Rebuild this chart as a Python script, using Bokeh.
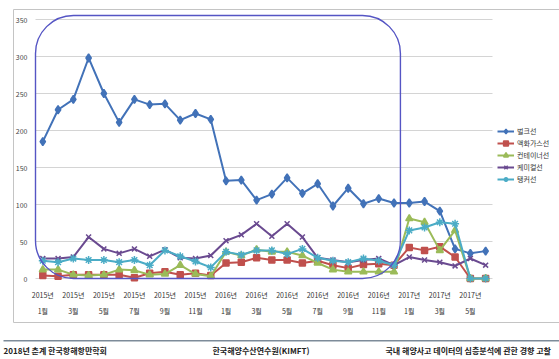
from bokeh.plotting import figure
from bokeh.models import Range1d, BoxAnnotation, Label, Legend, LegendItem
from bokeh.core.properties import value
from bokeh.embed import file_html
from bokeh.resources import INLINE

# Monthly accident counts by ship type, Jan 2015 – Jun 2017
months = list(range(30))
tick_positions = list(range(0, 30, 2))
tick_labels = ["2015년\n1월", "2015년\n3월", "2015년\n5월", "2015년\n7월", "2015년\n9월",
               "2015년\n11월", "2016년\n1월", "2016년\n3월", "2016년\n5월", "2016년\n7월",
               "2016년\n9월", "2016년\n11월", "2017년\n1월", "2017년\n3월", "2017년\n5월"]
y_ticks = [0, 50, 100, 150, 200, 250, 300, 350]

bulk = [185, 228, 242, 298, 250, 211, 242, 235, 236, 214, 223, 215,
        132, 133, 106, 114, 136, 115, 128, 98, 122, 101, 108, 102,
        102, 104, 91, 40, 34, 37]
lng = [4, 3, 5, 5, 5, 5, 1, 7, 9, 5, 7, 4,
       21, 22, 28, 25, 25, 21, 24, 18, 14, 19, 20, 18,
       42, 38, 43, 29, 0, 0]
container = [12, 12, 5, 4, 5, 12, 11, 5, 6, 18, 6, 3,
             36, 31, 39, 36, 36, 31, 21, 12, 9, 9, 9, 9,
             81, 76, 38, 65, 0, 0]
chemical = [27, 27, 29, 56, 40, 34, 40, 30, 39, 28, 27, 31,
            51, 59, 74, 57, 74, 56, 28, 25, 22, 25, 27, 18,
            29, 25, 22, 17, 27, 18]
tanker = [24, 22, 27, 25, 25, 22, 25, 18, 38, 30, 23, 15,
          36, 32, 38, 38, 33, 40, 28, 24, 22, 27, 24, 18,
          65, 69, 76, 74, 0, 0]

series_names = ["벌크선", "액화가스선", "컨테이너선", "케미컬선", "탱커선"]
series_values = [bulk, lng, container, chemical, tanker]
series_colors = ["#4272b8", "#c0504d", "#9bbb59", "#6a4a90", "#4bacc6"]
series_markers = ["diamond", "square", "triangle", "x", "asterisk"]
series_sizes = [8, 6, 7, 7, 8]

footer_texts = ["2018년 춘계 한국항해항만학회", "한국해양수산연수원(KIMFT)",
                "국내 해양사고 데이터의 심층분석에 관한 경향 고찰"]

FONT = "Noto Sans CJK KR"
W, H = 559, 359

# canvas pixel -> data helpers (month index on x, count on y)
X0_PX, DX_PX = 42.3, 15.27
Y0_PX, DY_PX = 278.0, 0.74


def dx(px):
    return (px - X0_PX) / DX_PX


def dy(py):
    return (Y0_PX - py) / DY_PX


p = figure(width=W, height=H, x_range=Range1d(dx(0), dx(W)),
           y_range=Range1d(dy(H), dy(0)), output_backend="svg",
           toolbar_location=None, x_axis_location=None, y_axis_location=None,
           min_border=0)
p.outline_line_color = None
p.background_fill_color = "white"
p.border_fill_color = "white"
p.grid.visible = False

plot_left, plot_right = dx(35), dx(492)

# horizontal gridlines
p.segment(x0=plot_left, x1=plot_right, y0=y_ticks, y1=y_ticks,
          line_color="#d4d4d4", line_width=1)

# y tick labels
p.text(x=[plot_left] * len(y_ticks), y=y_ticks, text=[str(v) for v in y_ticks],
       x_offset=-8, text_align="right", text_baseline="middle",
       text_font=value(FONT), text_font_size="7px", text_color="#444444")

# x tick labels (year line and month line)
years = [l.split("\n")[0] for l in tick_labels]
mons = [l.split("\n")[1] for l in tick_labels]
p.text(x=tick_positions, y=[0] * len(tick_positions), text=years, y_offset=16,
       text_align="center", text_baseline="middle", text_font=value(FONT),
       text_font_size="7px", text_color="#333333")
p.text(x=tick_positions, y=[0] * len(tick_positions), text=mons, y_offset=32,
       text_align="center", text_baseline="middle", text_font=value(FONT),
       text_font_size="7px", text_color="#333333")

items = []
for name, vals, col, mk, sz in zip(series_names, series_values, series_colors,
                                   series_markers, series_sizes):
    lr = p.line(months, vals, line_color=col, line_width=2)
    sr = p.scatter(months, vals, marker=mk, size=sz, fill_color=col,
                   line_color=col, line_width=1.5)
    items.append(LegendItem(label=name, renderers=[lr, sr]))

legend = Legend(items=items, location=(497, H - 185), padding=0, margin=0, spacing=0,
                label_height=12, glyph_height=12, glyph_width=17, label_standoff=3,
                label_text_font=FONT, label_text_font_size="7px",
                label_text_color="#333333", border_line_color=None,
                background_fill_alpha=0)
p.add_layout(legend)

# rounded outline around the 2015–2016 period
p.add_layout(BoxAnnotation(left=plot_left, right=23.42, bottom=0, top=dy(15),
                           fill_alpha=0, line_color="#5555c4", line_alpha=1,
                           line_width=1.4, border_radius=38))

# chart border
p.add_layout(BoxAnnotation(left=dx(13), right=dx(W + 10), bottom=dy(322), top=dy(9),
                           fill_alpha=0, line_color="#c4c4c4", line_alpha=1,
                           line_width=1))
# footer rule
p.add_layout(BoxAnnotation(left=dx(3), right=dx(W + 10), bottom=dy(341), top=dy(339.5),
                           fill_color="#7d8b99", fill_alpha=1, line_color=None))

for txt, fx in zip(footer_texts, [3, 212, 385]):
    p.add_layout(Label(x=dx(fx), y=dy(350), text=txt, text_font=FONT,
                       text_font_size="8px", text_font_style="bold",
                       text_color="#222222", text_baseline="middle"))

open("out.html", "w").write(file_html(p, INLINE))
